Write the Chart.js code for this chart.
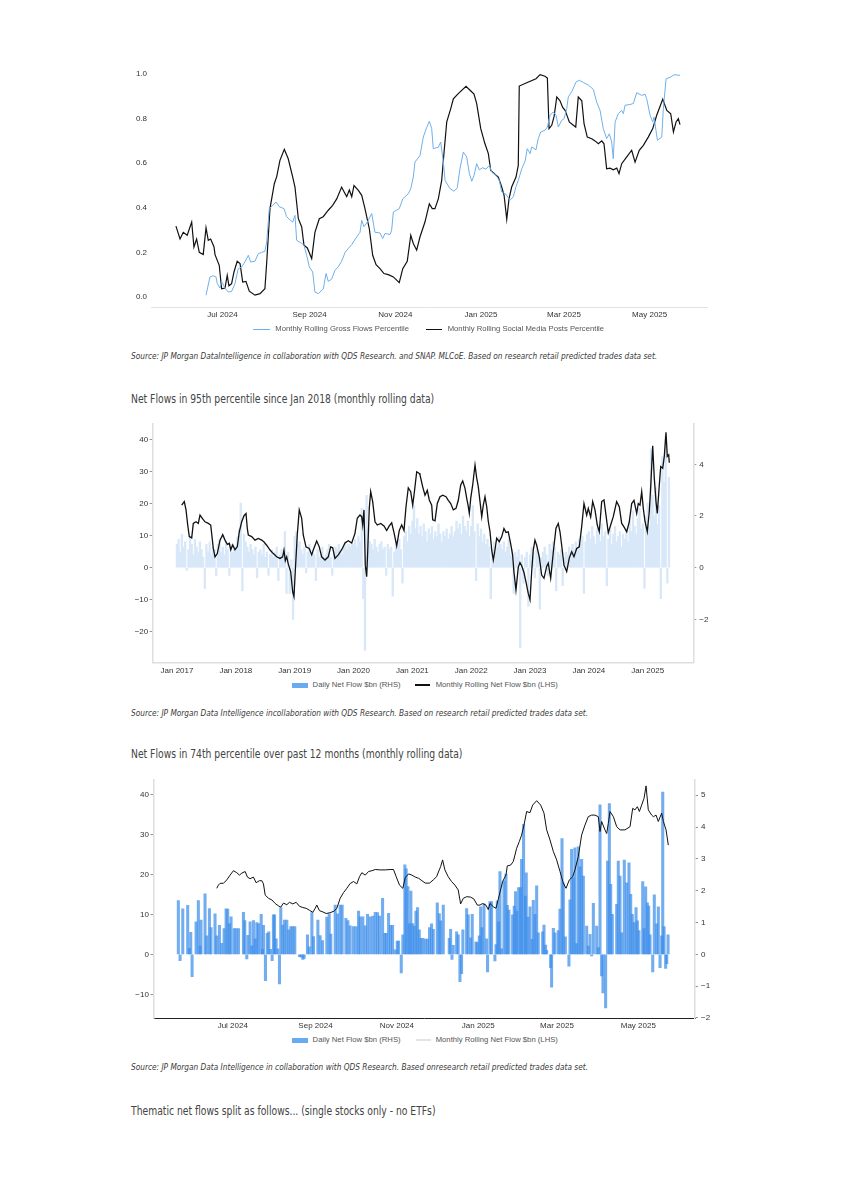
<!DOCTYPE html>
<html>
<head>
<meta charset="utf-8">
<title>Retail flows</title>
<script src="https://cdn.jsdelivr.net/npm/chart.js@4.4.1/dist/chart.umd.min.js"></script>
<style>
  html, body { margin: 0; padding: 0; background: #fff; }
  body { position: relative; width: 842px; height: 1191px; overflow: hidden; font-family: "Liberation Sans", Arial, sans-serif; }
  canvas { position: absolute; }
  .note { position: absolute; left: 131px; white-space: nowrap; font-family: "Liberation Sans Narrow", "DejaVu Sans Condensed", sans-serif; font-stretch: condensed; color: #3a3a3a; transform-origin: 0 50%; }
  .src { font-size: 9.4px; font-style: italic; line-height: 12px; transform: scaleX(0.877); }
  .head { font-size: 11.4px; line-height: 14px; color: #444; transform: scaleX(0.9); }
  .key { position: absolute; white-space: nowrap; font-size: 7.7px; line-height: 10px; color: #555; }
  .mark { position: absolute; }
</style>
</head>
<body>

<canvas id="gross" width="640" height="275" style="left:100px;top:55px"></canvas>
<div class="mark" style="left:253px;top:328.8px;width:17px;height:1px;background:#6fb0ea"></div>
<div class="key" style="left:275.3px;top:324.3px">Monthly Rolling Gross Flows Percentile</div>
<div class="mark" style="left:426px;top:328.5px;width:16px;height:1.5px;background:#111"></div>
<div class="key" style="left:447.7px;top:324.3px">Monthly Rolling Social Media Posts Percentile</div>
<div class="note src" style="top:350px">Source: JP Morgan DataIntelligence in collaboration with QDS Research. and SNAP. MLCoE. Based on research retail predicted trades data set.</div>

<div class="note head" style="top:392.3px">Net Flows in 95th percentile since Jan 2018 (monthly rolling data)</div>
<canvas id="hist" width="660" height="265" style="left:100px;top:415px"></canvas>
<div class="mark" style="left:291.5px;top:682.5px;width:16px;height:5px;background:#6aaaf0"></div>
<div class="key" style="left:312.6px;top:680px">Daily Net Flow $bn (RHS)</div>
<div class="mark" style="left:415px;top:684.3px;width:15px;height:1.4px;background:#111"></div>
<div class="key" style="left:435.7px;top:680px">Monthly Rolling Net Flow $bn (LHS)</div>
<div class="note src" style="top:707.3px">Source: JP Morgan Data Intelligence incollaboration with QDS Research. Based on research retail predicted trades data set.</div>

<div class="note head" style="top:747px">Net Flows in 74th percentile over past 12 months (monthly rolling data)</div>
<canvas id="year" width="660" height="265" style="left:100px;top:770px"></canvas>
<div class="mark" style="left:291.5px;top:1037.5px;width:16px;height:5px;background:#6aaaf0"></div>
<div class="key" style="left:312.6px;top:1035px">Daily Net Flow $bn (RHS)</div>
<div class="mark" style="left:415.7px;top:1039.3px;width:15px;height:1.4px;background:#e4e4e4"></div>
<div class="key" style="left:435.7px;top:1035px">Monthly Rolling Net Flow $bn (LHS)</div>
<div class="note src" style="top:1061.3px">Source: JP Morgan Data Intelligence in collaboration with QDS Research. Based onresearch retail predicted trades data set.</div>

<div class="note head" style="top:1104px">Thematic net flows split as follows... (single stocks only - no ETFs)</div>

<script>
// ---- chart 1: percentiles, x = days since 1 Jul 2024
const monthTicks = [0, 62, 123, 184, 243, 304];
const monthLabels = ['Jul 2024', 'Sep 2024', 'Nov 2024', 'Jan 2025', 'Mar 2025', 'May 2025'];
const pctTicks = [0, 0.2, 0.4, 0.6, 0.8, 1.0];

const grossFlowsPct = [[-11.7,0.008],[-8.9,0.09],[-6.5,0.095],[-4.6,0.09],[-3.7,0.06],[-1.8,0.04],[-0.6,0.07],[1.8,0.04],[4.1,0.022],[6.5,0.025],[8.9,0.06],[11.2,0.127],[13.7,0.135],[16,0.157],[18.4,0.187],[20.1,0.157],[23.1,0.16],[25.5,0.194],[27.9,0.2],[30.2,0.205],[31.5,0.247],[33.3,0.396],[35.7,0.41],[38.1,0.426],[40.4,0.405],[43.8,0.396],[45.7,0.36],[48,0.346],[50,0.336],[51.6,0.366],[52.8,0.254],[56.4,0.24],[58,0.232],[59.9,0.187],[61.8,0.135],[64.2,0.112],[65.8,0.022],[68.2,0.015],[71.7,0.035],[73.7,0.105],[75.3,0.07],[77.7,0.08],[80.1,0.12],[82.4,0.135],[84.8,0.16],[87.2,0.199],[89.5,0.217],[92,0.235],[95.5,0.269],[97.9,0.29],[99.1,0.344],[100.7,0.315],[103.1,0.336],[106.2,0.374],[108.5,0.29],[112.1,0.287],[114,0.262],[115.7,0.285],[119.2,0.28],[120.4,0.3],[121.6,0.381],[125.8,0.396],[128.3,0.44],[132.2,0.463],[134,0.485],[135.8,0.538],[137,0.605],[140.6,0.635],[142.9,0.717],[145.3,0.76],[147.2,0.788],[148.9,0.755],[150,0.665],[153.6,0.672],[155.3,0.695],[157.2,0.605],[158.4,0.523],[161.9,0.486],[164.8,0.474],[167.1,0.49],[169,0.575],[171.4,0.65],[173.8,0.628],[175.7,0.553],[177.4,0.519],[179,0.545],[180.9,0.598],[182.8,0.57],[185.2,0.58],[187.5,0.573],[189.9,0.59],[191.6,0.56],[194.7,0.545],[197,0.523],[198.7,0.471],[201.8,0.46],[204.6,0.434],[207,0.45],[208.9,0.495],[210.5,0.523],[213,0.575],[215.3,0.608],[216.9,0.665],[218.9,0.643],[220.1,0.673],[223.1,0.66],[224.7,0.71],[226.5,0.74],[229.5,0.748],[231.2,0.762],[233.1,0.815],[235.4,0.83],[237.4,0.815],[239,0.762],[241.4,0.792],[243.1,0.8],[245,0.845],[246.1,0.897],[248.5,0.92],[251.6,0.964],[253.9,0.972],[256.8,0.962],[260.4,0.95],[263.9,0.931],[266.3,0.874],[268.7,0.837],[271,0.755],[273.4,0.71],[275.3,0.732],[277,0.695],[278.1,0.62],[279.4,0.785],[281.7,0.822],[284.1,0.837],[285.3,0.822],[286.5,0.86],[290,0.863],[292.4,0.868],[294.8,0.916],[298.4,0.904],[300.7,0.91],[301.9,0.889],[304.3,0.815],[306.2,0.785],[307.1,0.807],[308.5,0.747],[309.5,0.703],[312.6,0.717],[313.7,0.843],[315.7,0.979],[318.5,0.985],[321.4,0.997],[325.6,0.994]];

const socialPostsPct = [[-33.1,0.318],[-30.2,0.26],[-27.9,0.29],[-25.1,0.277],[-21.9,0.336],[-20.3,0.224],[-18.4,0.26],[-16.5,0.2],[-13.7,0.19],[-11.7,0.31],[-10.1,0.254],[-8.4,0.26],[-6,0.224],[-5.3,0.19],[-2.3,0.142],[-0.6,0.037],[1.8,0.04],[3.4,0.097],[4.6,0.05],[6.5,0.06],[8.2,0.112],[10.5,0.16],[12.5,0.15],[14.4,0.067],[16.7,0.07],[19.1,0.026],[23.1,0.008],[26.7,0.015],[30.2,0.037],[31.5,0.157],[33.8,0.396],[36.9,0.508],[38.6,0.54],[40.9,0.613],[44,0.662],[46.8,0.62],[50,0.538],[51.6,0.493],[54,0.351],[56.4,0.314],[58,0.232],[60.4,0.22],[63.5,0.172],[65.8,0.29],[68.9,0.351],[71.7,0.36],[75.3,0.389],[78.4,0.411],[81.3,0.44],[84.8,0.493],[86.7,0.47],[88.4,0.45],[90.3,0.48],[92,0.45],[93.6,0.5],[96.7,0.478],[99.1,0.456],[101.4,0.396],[104.5,0.306],[106.9,0.187],[109.3,0.145],[112.1,0.127],[114.9,0.105],[118,0.1],[121.6,0.09],[125.8,0.064],[128.3,0.127],[131.5,0.16],[134,0.277],[135.8,0.24],[138.2,0.21],[140.6,0.27],[144.1,0.336],[147.2,0.418],[149.3,0.396],[151.2,0.396],[153.6,0.44],[156,0.523],[157.7,0.65],[159.6,0.785],[162.4,0.844],[164.3,0.889],[167.8,0.912],[173.3,0.945],[176.2,0.927],[179,0.91],[180.9,0.867],[183.8,0.755],[186.8,0.687],[189.2,0.643],[190.9,0.568],[194,0.55],[196.3,0.538],[198.7,0.493],[200.4,0.456],[202.3,0.348],[203.9,0.44],[205.8,0.493],[208.9,0.538],[210.5,0.59],[211.2,0.946],[216.5,0.961],[223.1,0.979],[226,0.997],[229.5,0.99],[231.2,0.982],[232.4,0.755],[234.3,0.77],[236,0.81],[237.9,0.897],[240.2,0.88],[242.1,0.85],[243.8,0.837],[245.4,0.81],[246.8,0.785],[249.7,0.77],[251.4,0.762],[253.2,0.897],[255.7,0.88],[257.3,0.777],[259.6,0.717],[262.8,0.71],[265.1,0.7],[267.5,0.687],[269.9,0.7],[271.5,0.687],[273.4,0.575],[275.8,0.578],[278.1,0.57],[280.6,0.578],[282.2,0.553],[284.1,0.598],[287.7,0.628],[291.2,0.658],[293.6,0.605],[296.6,0.658],[299.5,0.68],[303,0.717],[306.2,0.755],[309,0.815],[313.3,0.887],[316.2,0.837],[319,0.822],[320.9,0.74],[322.8,0.785],[324.4,0.8],[325.6,0.773]];

// ---- chart 2: since 2017, x = decimal year
const yearTicks = [2017, 2018, 2019, 2020, 2021, 2022, 2023, 2024, 2025];
const yearLabels = ['Jan 2017', 'Jan 2018', 'Jan 2019', 'Jan 2020', 'Jan 2021', 'Jan 2022', 'Jan 2023', 'Jan 2024', 'Jan 2025'];
const lhsTicksLong = [-20, -10, 0, 10, 20, 30, 40];
const rhsTicksLong = [-2, 0, 2, 4];

const rollingLong = [[2017.08,19.5],[2017.124,20.6],[2017.153,18],[2017.182,13.3],[2017.209,9.7],[2017.25,9.3],[2017.277,13.8],[2017.323,14.3],[2017.362,13.8],[2017.391,16.4],[2017.437,15.2],[2017.476,14.3],[2017.532,13.8],[2017.573,13.3],[2017.617,6],[2017.646,3.4],[2017.685,4.4],[2017.731,8.6],[2017.777,10.3],[2017.816,8.6],[2017.855,7.3],[2017.889,7.6],[2017.913,5.6],[2017.947,7.1],[2017.986,5.6],[2018.025,6.6],[2018.059,11.2],[2018.1,14.3],[2018.139,16.2],[2018.173,16.9],[2018.195,12.2],[2018.212,10.2],[2018.27,9.7],[2018.326,8.6],[2018.382,9.1],[2018.44,8.6],[2018.479,8],[2018.524,7],[2018.581,5.5],[2018.637,4.4],[2018.694,3.4],[2018.75,2.9],[2018.796,3.4],[2018.818,5.5],[2018.841,2.2],[2018.864,3.4],[2018.891,1.2],[2018.932,-1.2],[2018.966,-7.5],[2018.988,-9],[2019.01,-1.2],[2019.044,10.2],[2019.078,18],[2019.119,15.4],[2019.146,10.2],[2019.192,6.5],[2019.248,6],[2019.289,4],[2019.316,5.5],[2019.374,8.3],[2019.418,6.5],[2019.459,3.4],[2019.515,2.4],[2019.571,3.4],[2019.612,6.5],[2019.646,6.2],[2019.685,2.9],[2019.741,4],[2019.799,5.6],[2019.855,7.7],[2019.911,8.4],[2019.969,7.7],[2020.025,10.7],[2020.064,15.4],[2020.11,16.4],[2020.139,15.9],[2020.156,13.3],[2020.178,18],[2020.2,0.8],[2020.224,-2.8],[2020.241,5],[2020.268,18.6],[2020.292,23.7],[2020.326,20.6],[2020.365,14.3],[2020.404,13.3],[2020.462,13.8],[2020.518,13],[2020.564,11.6],[2020.608,13],[2020.649,14],[2020.688,10.9],[2020.734,6.8],[2020.778,11.6],[2020.819,13.3],[2020.858,11.6],[2020.892,19],[2020.931,24.9],[2020.972,23.7],[2021.006,19.5],[2021.028,22.6],[2021.074,29.9],[2021.118,29.4],[2021.13,28.9],[2021.176,25.2],[2021.215,22.6],[2021.254,24.1],[2021.288,21.1],[2021.329,19.5],[2021.346,14.9],[2021.385,14.6],[2021.424,20],[2021.47,22.1],[2021.516,22.6],[2021.572,22.1],[2021.611,21],[2021.652,20],[2021.696,18],[2021.742,18.5],[2021.781,21],[2021.822,25.8],[2021.856,27],[2021.895,24.7],[2021.924,21.6],[2021.951,19],[2021.968,16.9],[2021.992,21.6],[2022.025,25.7],[2022.065,32],[2022.094,27.9],[2022.121,25.2],[2022.15,20.6],[2022.179,15.9],[2022.206,19.5],[2022.235,22.1],[2022.264,19],[2022.291,14.4],[2022.32,11.2],[2022.349,5.5],[2022.376,2.4],[2022.404,5.5],[2022.433,9.2],[2022.477,8.1],[2022.518,9.6],[2022.557,12.2],[2022.591,11],[2022.63,11.2],[2022.67,7.6],[2022.704,4],[2022.726,-1.2],[2022.761,-7],[2022.8,0.1],[2022.829,1.6],[2022.858,0.6],[2022.897,-1.5],[2022.931,-4.4],[2022.97,-8],[2023.0,-10],[2023.028,-1.2],[2023.055,5.5],[2023.084,8.6],[2023.113,7],[2023.157,3.4],[2023.198,-2.3],[2023.237,-3.3],[2023.283,0.4],[2023.31,1.4],[2023.351,-3.3],[2023.396,4.9],[2023.441,12.3],[2023.48,13.8],[2023.509,11.2],[2023.538,7],[2023.577,0.8],[2023.623,-1.2],[2023.667,3],[2023.708,5],[2023.747,3.4],[2023.793,6],[2023.837,6.5],[2023.878,12.8],[2023.917,20],[2023.963,16.4],[2023.99,18.5],[2024.031,15.8],[2024.065,20.6],[2024.104,18],[2024.143,13.3],[2024.177,11.2],[2024.218,20.6],[2024.257,21.1],[2024.291,16.4],[2024.33,10.9],[2024.371,13.3],[2024.415,15.9],[2024.472,20.6],[2024.517,19],[2024.558,13.8],[2024.597,12.7],[2024.643,11.2],[2024.687,14.3],[2024.728,20],[2024.767,21],[2024.813,16.9],[2024.84,20],[2024.869,19.5],[2024.898,23.7],[2024.925,18.5],[2024.954,14.4],[2024.993,11.2],[2025.027,17.5],[2025.051,25.2],[2025.085,38],[2025.112,27.9],[2025.141,20.6],[2025.163,16.9],[2025.197,25.7],[2025.221,31.5],[2025.255,31],[2025.282,34.7],[2025.311,42.2],[2025.333,34.7],[2025.357,35.2],[2025.367,32.7]];

// daily net flow, ~every 10 days, one row per year
const daily2017 = [0.9,1.1,0.6,1.3,0.8,1.0,-0.1,0.7,1.2,0.9,0.5,1.1,0.8,0.6,1.0,0.7,0.4,-0.8,0.9,0.6,1.0,0.5,0.8,0.7,-0.3,0.9,1.1,0.6,0.8,0.5,1.0,0.7,-0.3,0.9,0.6,0.8];
const daily2018 = [0.8,1.2,1.5,2.5,-0.9,1.3,1.0,0.8,0.6,0.9,0.7,0.5,0.8,-0.4,0.6,0.7,0.5,0.9,0.4,0.6,-0.3,0.5,0.7,0.4,0.6,0.8,-0.5,0.5,0.7,0.4,1.4,-1.0,0.6,-1.0,0.3,-2.0];
const daily2019 = [1.2,1.4,0.9,1.0,0.7,0.5,0.8,-0.2,0.6,0.9,0.4,0.6,0.5,-0.5,0.7,0.4,0.6,0.8,0.3,0.5,0.7,0.9,0.4,-0.3,0.6,0.8,0.7,0.9,0.6,0.5,0.8,1.0,0.7,0.9,0.8,1.0];
const daily2020 = [0.9,1.1,0.8,1.2,1.0,2.3,-1.2,-3.2,2.8,1.5,1.0,0.9,0.7,1.1,0.8,0.6,0.9,1.0,0.7,0.8,-0.3,0.9,0.7,0.8,-1.1,0.6,0.9,0.8,1.1,0.7,-0.6,1.2,1.4,1.0,1.6,1.3];
const daily2021 = [1.8,2.4,1.5,1.9,1.3,1.6,1.2,1.7,1.4,1.0,1.5,1.3,1.6,1.1,1.4,1.2,1.7,1.3,1.0,1.4,1.2,1.5,1.1,1.3,1.6,1.2,1.4,1.8,1.5,1.7,1.3,2.0,1.6,1.4,1.8,1.2];
const daily2022 = [1.6,2.4,1.4,-0.5,1.7,1.2,1.5,1.0,1.3,0.9,1.1,0.8,-1.2,0.7,1.0,0.6,0.8,1.2,0.9,0.7,1.0,0.6,0.8,1.1,0.5,0.7,-1.0,0.6,0.4,0.7,-3.1,0.5,-0.6,0.4,0.6,-1.5];
const daily2023 = [0.5,0.8,0.6,-0.4,0.7,0.5,-1.6,0.4,0.6,0.8,0.5,-0.3,0.9,0.7,1.0,0.8,-0.9,0.6,0.5,0.7,-0.7,0.4,0.6,0.5,0.8,0.6,0.9,0.7,1.0,0.8,1.1,0.9,1.2,-1.0,1.0,1.3];
const daily2024 = [1.4,1.1,1.6,1.2,0.9,1.5,1.3,1.0,1.7,1.2,1.4,-0.7,1.1,1.5,0.9,1.3,1.6,1.0,1.2,1.4,0.8,1.3,1.1,1.5,1.0,1.8,1.4,2.2,1.6,1.3,1.9,2.3,1.5,1.7,-0.8,2.0];
const daily2025 = [2.5,1.6,4.6,2.8,2.0,3.1,1.7,2.4,-1.2,4.3,3.3,5.1,-0.6,3.5];
const dailyYears = [daily2017, daily2018, daily2019, daily2020, daily2021, daily2022, daily2023, daily2024, daily2025];

// ---- chart 3: past 12 months, x = days since 1 Jul 2024
const lhsTicksYear = [-10, 0, 10, 20, 30, 40];
const rhsTicksYear = [-2, -1, 0, 1, 2, 3, 4, 5];

const dailyYear = [[-40.8,1.69],[-39.5,-0.2],[-37.5,1.43],[-33.8,1.54],[-32.5,0.19],[-31.5,0.69],[-30.5,-0.7],[-27.5,1.02],[-25.8,1.69],[-24.5,0.27],[-23.8,1.08],[-20.8,1.9],[-19.5,0.58],[-17.5,1.44],[-16.3,0.84],[-13.3,1.27],[-12,0.58],[-10,0.91],[-8.3,0.35],[-6.5,0.81],[-5,1.43],[-3.8,1.42],[-2.5,0.97],[-1.3,1.18],[1,0.81],[2.5,0.81],[4.3,0.81],[8,1.32],[9,1.06],[10.5,-0.14],[11.3,0.6],[13,1.02],[14.3,0.27],[15.5,1.06],[16.8,0.49],[18,1.0],[19.3,0.97],[21.3,1.26],[22.3,0.16],[23,0.91],[24.5,-0.83],[25.8,0.66],[27,0.71],[28.3,0.16],[29.5,-0.2],[30.5,1.24],[31.3,1.24],[32.5,0.49],[33.8,0.17],[35,-0.93],[36,1.47],[37.5,0.92],[38.8,1.08],[40.5,1.08],[42,0.77],[43.5,0.87],[45,0.87],[46.5,0.87],[50,-0.07],[51.3,-0.09],[52.5,-0.16],[53.5,-0.13],[56,0.61],[57.3,0.24],[59.3,1.31],[60.5,0.56],[63.8,1.08],[65.5,0.59],[67.3,0.43],[70.5,1.17],[72.3,1.27],[73.5,0.64],[76.8,1.55],[78.5,1.27],[80.5,1.55],[82,1.55],[84.8,1.13],[86.3,1.06],[88,0.9],[90.5,0.87],[92.5,0.87],[94.3,1.36],[95.5,1.18],[97.5,1.18],[99.3,0.9],[101,1.26],[103,1.18],[105,1.2],[106.8,1.32],[108.5,1.31],[110,1.2],[112.3,1.76],[114,0.66],[115,0.66],[116.8,1.29],[118.3,0.91],[119.8,0.91],[121.8,0.14],[123.3,0.42],[124.3,0.42],[126.3,-0.58],[127.5,0.61],[129,2.81],[130,2.69],[131.3,2.13],[132.5,0.97],[133.5,1.99],[134.8,0.97],[136,0.89],[137.3,1.36],[138.5,1.47],[139.8,0.77],[141,0.5],[142.5,0.5],[144.3,0.48],[146,0.48],[147.5,0.84],[149,0.96],[150.3,0.79],[153.3,1.62],[154.8,1.28],[155.8,1.05],[157.8,1.55],[162.3,0.5],[163.3,0.79],[164.3,-0.16],[165.3,0.28],[167.8,0.71],[169,0.61],[170.3,-0.86],[171.5,-0.61],[172.5,0.77],[175.3,1.44],[176.5,1.24],[178.3,0.52],[179.5,1.26],[182.3,0.39],[183.3,0.37],[184.8,0.58],[185.8,1.49],[186.8,0.84],[188.3,1.59],[190.3,0.49],[191,-0.55],[192.8,1.66],[194,1.66],[196.5,-0.21],[197.3,0.31],[198.3,1.68],[199.3,1.02],[200.3,2.6],[201.5,0.17],[203.3,2.31],[204.8,2.52],[205.8,1.54],[207,1.39],[209.8,1.24],[211,1.52],[212,1.97],[213,1.36],[214.3,2.1],[215.8,2.1],[216.5,2.99],[218,4.09],[219.3,1.83],[220,2.56],[221.3,1.17],[222.8,1.49],[224.3,0.47],[225.3,1.7],[226.5,1.26],[227.8,2.15],[229,0.68],[232.3,0.71],[233.3,0.92],[234.5,0.29],[235.3,0.13],[238.3,-0.42],[239,-1.03],[240.3,0.82],[241.5,0.68],[244,0.75],[245.3,1.42],[246.8,3.64],[247.8,2.25],[249.3,0.55],[252,-0.37],[252.8,1.71],[254,3.3],[255.3,2.41],[256.5,3.35],[257.8,0.34],[259,3.38],[260.3,2.75],[261.5,2.99],[262.8,2.46],[265.3,0.89],[266.5,0.26],[267.8,0.63],[269,-0.05],[270.3,1.6],[272.8,0.89],[274,0.21],[275.3,4.7],[276.5,-0.68],[277.5,-1.21],[279.5,-1.68],[281,2.93],[282.3,4.74],[283.3,2.2],[284.5,1.26],[287.8,1.57],[289,2.93],[290.3,2.46],[291.5,0.68],[293.5,2.96],[295.3,2.25],[297,2.88],[298.3,1.89],[299.5,1.26],[300.8,1.0],[302.3,1.47],[303.3,1.05],[304.5,0.75],[307.3,2.29],[308.3,0.81],[309.5,2.12],[310.8,1.62],[311.8,1.52],[312.8,0.61],[314.8,-0.55],[316,1.87],[317.8,0.96],[319,1.49],[320.3,-0.42],[321.5,0.58],[322.3,5.1],[323.3,0.87],[324.5,-0.44],[325.3,-0.29],[326.3,0.61]];

const rollingYear = [[-12,16.5],[-10.8,17.3],[-9.5,17.75],[-7,17.75],[-4.5,18.6],[-2,19.8],[0.5,20.9],[3,20.4],[5,19.8],[6.8,20.3],[9.3,20.7],[11,19.3],[13,18.9],[15.5,19.3],[17.5,17.9],[20,18.4],[21.8,18.4],[23,17.6],[24.3,14.8],[26.8,14.0],[29.3,13.6],[31.8,12.7],[34.3,12.1],[36,11.8],[38,12.8],[40.5,12.4],[42.5,13.0],[45,12.6],[47.5,13.0],[50,12.0],[52.5,11.7],[55,11.5],[57.5,11.0],[60,10.5],[61.8,11.5],[63,12.3],[65,10.9],[67.5,10.6],[70,10.2],[73,10.4],[76,10.8],[78,11.5],[80.5,14.0],[83,15.4],[85.5,16.5],[88,17.7],[90.5,18.2],[93,17.6],[95,19.4],[96.8,20.4],[99.3,19.8],[101.8,20.7],[104.3,20.9],[106.8,21.2],[110.5,21.1],[114.3,21.1],[118,21.2],[120.5,21.2],[122.5,19.4],[125,17.3],[127.5,16.5],[129.3,19.2],[131.8,20.1],[134.3,19.8],[136.8,19.3],[139.3,19.0],[141.8,18.4],[144.3,17.8],[147.5,17.8],[150.3,18.6],[152.8,19.4],[154.8,21.1],[155.8,21.9],[157.3,23.6],[159,21.1],[161.5,19.4],[164,18.2],[166.5,17.3],[169,16.1],[170.8,12.6],[172.8,14.0],[175.3,14.4],[178.3,14.3],[180.8,13.8],[183.3,12.3],[185.3,12.3],[187.3,12.7],[189.8,12.3],[191.5,11.2],[192.8,12.7],[195.3,11.9],[197.3,11.5],[199.8,14.8],[202.3,18.2],[204.8,19.8],[205.8,22.1],[208.3,22.3],[210.3,23.2],[212.8,26.5],[214.8,28.2],[216.5,29.8],[218.3,32.3],[220.3,35.7],[222.8,35.4],[224.8,37.3],[227.8,38.4],[230.8,37.3],[233.3,35.3],[235.3,31.1],[237.8,28.6],[240.3,25.7],[242.8,23.6],[245.3,20.7],[247.8,17.75],[249.8,16.5],[252.3,18.6],[254.8,19.4],[256.5,21.1],[259,24.4],[261.5,29.8],[264,32.3],[266.5,34.4],[269,34.8],[271.5,34.8],[274,34.4],[275.3,30.7],[276.5,33.2],[279,31.1],[280.3,30.2],[281.5,32.7],[282.8,35.7],[285.3,34.4],[287.8,31.9],[290.3,31.1],[294,31.1],[297.8,31.9],[299.8,36.5],[301.5,36.1],[303.3,36.9],[304.8,35.7],[306.5,37.3],[308.3,39.0],[309.8,42.1],[311.5,36.1],[314,34.8],[315.3,34.4],[317.3,34.8],[319,33.2],[321.5,35.3],[322.8,33.2],[324.8,31.1],[326.5,27.3]];

// ---- helpers
Chart.defaults.font.family = '"Liberation Sans", Arial, sans-serif';
Chart.defaults.font.size = 8;
Chart.defaults.color = '#333';

function fixedTicks(list) {
  return function (axis) { axis.ticks = list.map(v => ({ value: v })); };
}
function signed(v) {
  return v < 0 ? '\u2212' + Math.abs(v) : String(v);
}
const toPoints = arr => arr.map(p => ({ x: p[0], y: p[1] }));

const dailyLongPoints = [];
dailyYears.forEach((row, k) => {
  row.forEach((v, i) => dailyLongPoints.push({ x: yearTicks[k] + i / 36, y: v }));
});

const quiet = { legend: { display: false }, tooltip: { enabled: false } };
const tickMarks = { display: true, drawOnChartArea: false, drawTicks: true, tickLength: 3, color: '#777', lineWidth: 0.8 };

// ---- chart 1
new Chart(document.getElementById('gross'), {
  type: 'line',
  data: {
    datasets: [
      { label: 'Monthly Rolling Gross Flows Percentile', data: toPoints(grossFlowsPct), borderColor: '#6fb0ea', borderWidth: 1, pointRadius: 0, tension: 0 },
      { label: 'Monthly Rolling Social Media Posts Percentile', data: toPoints(socialPostsPct), borderColor: '#111', borderWidth: 1.2, pointRadius: 0, tension: 0 }
    ]
  },
  options: {
    responsive: false, animation: false, events: [],
    layout: { padding: { left: 0, right: 33, top: 10.1, bottom: 9 } },
    plugins: quiet,
    scales: {
      x: {
        type: 'linear', min: -50.5, max: 344.8,
        afterBuildTicks: fixedTicks(monthTicks),
        ticks: { callback: v => monthLabels[monthTicks.indexOf(v)], maxRotation: 0, autoSkip: false, padding: 3 },
        grid: { display: false, drawTicks: false },
        border: { color: '#e2e2e2', width: 1 },
        afterFit: s => { s.height = 14; }
      },
      y: {
        min: -0.045, max: 1.04,
        afterBuildTicks: fixedTicks(pctTicks),
        ticks: { callback: v => v.toFixed(1), padding: 4.5 },
        grid: { display: false, drawTicks: false },
        border: { display: false },
        afterFit: s => { s.width = 51.5; }
      }
    }
  }
});

// ---- chart 2
new Chart(document.getElementById('hist'), {
  type: 'bar',
  data: {
    datasets: [
      { type: 'line', label: 'Monthly Rolling Net Flow $bn (LHS)', data: toPoints(rollingLong), yAxisID: 'yL', borderColor: '#111', borderWidth: 1.3, pointRadius: 0, tension: 0 },
      { type: 'bar', label: 'Daily Net Flow $bn (RHS)', data: dailyLongPoints, yAxisID: 'yR', backgroundColor: '#d9e8f8', borderWidth: 0, barThickness: 1.7 }
    ]
  },
  options: {
    responsive: false, animation: false, events: [],
    layout: { padding: { left: 0, right: 14, top: 9, bottom: 3.7 } },
    plugins: quiet,
    scales: {
      x: {
        type: 'linear', offset: false, min: 2016.587, max: 2025.775,
        afterBuildTicks: fixedTicks(yearTicks),
        ticks: { callback: v => yearLabels[yearTicks.indexOf(v)], maxRotation: 0, autoSkip: false, padding: 4 },
        grid: { display: false, drawTicks: false },
        border: { color: '#dedede', width: 1.5 },
        afterFit: s => { s.height = 14; }
      },
      yL: {
        position: 'left', min: -29.47, max: 44.77,
        afterBuildTicks: fixedTicks(lhsTicksLong),
        ticks: { callback: signed, padding: 1.5 },
        grid: tickMarks,
        border: { color: '#dedede', width: 1.5 },
        afterFit: s => { s.width = 52.7; }
      },
      yR: {
        position: 'right', min: -3.66, max: 5.559,
        afterBuildTicks: fixedTicks(rhsTicksLong),
        ticks: { callback: signed, padding: 3 },
        grid: tickMarks,
        border: { color: '#dedede', width: 1.5 },
        afterFit: s => { s.width = 52.7; }
      }
    }
  }
});

// ---- chart 3
new Chart(document.getElementById('year'), {
  type: 'bar',
  data: {
    datasets: [
      { type: 'line', label: 'Monthly Rolling Net Flow $bn (LHS)', data: toPoints(rollingYear), yAxisID: 'yL', borderColor: '#111', borderWidth: 1, pointRadius: 0, tension: 0 },
      { type: 'bar', label: 'Daily Net Flow $bn (RHS)', data: toPoints(dailyYear), yAxisID: 'yR', backgroundColor: 'rgba(60,142,234,0.72)', borderWidth: 0, barThickness: 2.4 }
    ]
  },
  options: {
    responsive: false, animation: false, events: [],
    layout: { padding: { left: 0, right: 11.6, top: 10, bottom: 2.7 } },
    plugins: quiet,
    scales: {
      x: {
        type: 'linear', offset: false, min: -59.5, max: 346.5,
        afterBuildTicks: fixedTicks(monthTicks),
        ticks: { callback: v => monthLabels[monthTicks.indexOf(v)], maxRotation: 0, autoSkip: false, padding: 3 },
        grid: { display: false, drawTicks: false },
        border: { color: '#222', width: 1 },
        afterFit: s => { s.height = 14; }
      },
      yL: {
        position: 'left', min: -16, max: 43.575,
        afterBuildTicks: fixedTicks(lhsTicksYear),
        ticks: { callback: signed, padding: 1.5 },
        grid: tickMarks,
        border: { color: '#dedede', width: 1.5 },
        afterFit: s => { s.width = 53.4; }
      },
      yR: {
        position: 'right', min: -2.01, max: 5.48,
        afterBuildTicks: fixedTicks(rhsTicksYear),
        ticks: { callback: signed, padding: 3 },
        grid: tickMarks,
        border: { color: '#dedede', width: 1.5 },
        afterFit: s => { s.width = 53.4; }
      }
    }
  }
});
</script>
</body>
</html>
